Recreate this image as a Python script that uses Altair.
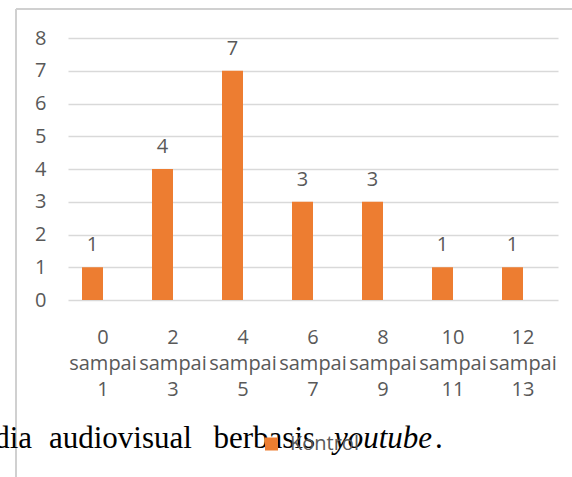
import altair as alt
import pandas as pd

categories = ["0 sampai 1", "2 sampai 3", "4 sampai 5", "6 sampai 7",
              "8 sampai 9", "10 sampai 11", "12 sampai 13"]
values = [1, 4, 7, 3, 3, 1, 1]
series = ["Kontrol"] * len(categories)
series_slots = ["Kontrol", "(kosong)"]
y_ticks = [0, 1, 2, 3, 4, 5, 6, 7, 8]

df = pd.DataFrame({"kategori": categories, "nilai": values, "seri": series})
one = pd.DataFrame({"a": [0]})

FONT = "Open Sans"
GRAY = "#595959"
ORANGE = "#ED7D31"
GRID = "#D9D9D9"
FRAME = "#D0D0D0"
SERIF = "Liberation Serif"

base = alt.Chart(df)

x_enc = alt.X(
    "kategori:N", sort=categories, title=None,
    scale=alt.Scale(paddingInner=0.4, paddingOuter=0.2),
    axis=alt.Axis(labels=False, ticks=False, domain=False, grid=False),
)
xoff_enc = alt.XOffset("seri:N", scale=alt.Scale(domain=series_slots,
                                                  paddingInner=0, paddingOuter=0))
y_axis = alt.Axis(values=y_ticks, labelOverlap=False,
                  labelFont=FONT, labelFontSize=20,
                  labelColor=GRAY, labelPadding=22, grid=True, gridColor=GRID,
                  gridWidth=1.5, domain=False, ticks=False)
y_enc = alt.Y("nilai:Q", title=None, scale=alt.Scale(domain=[0, 8], nice=False),
              axis=y_axis)

bars = base.mark_bar(color=ORANGE).encode(
    x=x_enc, xOffset=xoff_enc, y=y_enc,
    color=alt.Color("seri:N", scale=alt.Scale(domain=["Kontrol"], range=[ORANGE]),
                    legend=alt.Legend(title=None, orient="none", legendX=193.5,
                                      legendY=396, symbolType="square",
                                      symbolSize=169, symbolStrokeWidth=0,
                                      labelFont=FONT, labelFontSize=20,
                                      labelColor=GRAY, labelOffset=8.5,
                                      padding=0)),
)

labels = base.mark_text(dy=-16, baseline="alphabetic", font=FONT, fontSize=20,
                        color=GRAY).encode(x=x_enc, xOffset=xoff_enc, y=y_enc,
                                           text="nilai:Q")

xlabels = base.mark_text(baseline="top", font=FONT, fontSize=20,
                         color=GRAY, lineBreak=" ", lineHeight=26).encode(
    x=x_enc, y=alt.value(290), text="kategori:N")

frame_left = alt.Chart(one).mark_rule(color=FRAME, strokeWidth=2).encode(
    x=alt.value(-52), y=alt.value(-29), y2=alt.value(445))
frame_top = alt.Chart(one).mark_rule(color=FRAME, strokeWidth=2).encode(
    x=alt.value(-52), x2=alt.value(510), y=alt.value(-29))


def doc_word(word, xpos, align="left", style="normal"):
    return alt.Chart(one).mark_text(align=align, baseline="alphabetic",
                                    font=SERIF, fontSize=31, fontStyle=style,
                                    color="black").encode(
        x=alt.value(xpos), y=alt.value(410), text=alt.value(word))


doc = [
    doc_word("dia", -36, align="right"),
    doc_word("audiovisual", -19),
    doc_word("berbasis", 145.5),
    doc_word("youtube", 266, style="italic"),
    doc_word(".", 367),
]

chart = alt.layer(bars, frame_left, frame_top, *doc, labels,
                  xlabels).properties(
    width=490, height=262,
    autosize=alt.AutoSizeParams(type="none"),
    padding={"left": 68, "top": 38, "right": 14, "bottom": 177},
).configure_view(stroke=None)

chart.save("out.html", embed_options={"renderer": "svg", "actions": False})
